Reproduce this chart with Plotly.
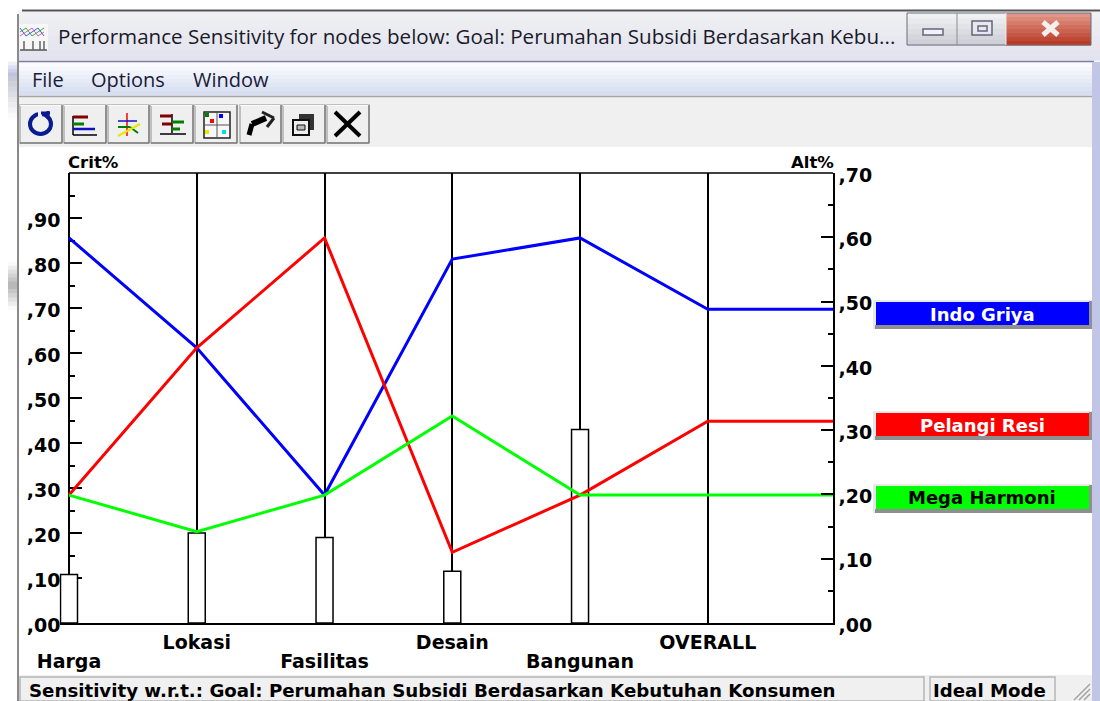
import plotly.graph_objects as go

# ---- data ----
categories = ["Harga", "Lokasi", "Fasilitas", "Desain", "Bangunan", "OVERALL", " "]
crit_weights = [0.108, 0.200, 0.190, 0.115, 0.430]
indo_griya = [0.599, 0.428, 0.199, 0.566, 0.599, 0.488, 0.488]
pelangi_resi = [0.199, 0.428, 0.599, 0.110, 0.199, 0.314, 0.314]
mega_harmoni = [0.199, 0.142, 0.199, 0.322, 0.199, 0.199, 0.199]
left_ticks = [0.0, 0.1, 0.2, 0.3, 0.4, 0.5, 0.6, 0.7, 0.8, 0.9]
left_labels = [",00", ",10", ",20", ",30", ",40", ",50", ",60", ",70", ",80", ",90"]
right_ticks = [0.0, 0.1, 0.2, 0.3, 0.4, 0.5, 0.6, 0.7]
right_labels = [",00", ",10", ",20", ",30", ",40", ",50", ",60", ",70"]
series_names = ["Indo Griya", "Pelangi Resi", "Mega Harmoni"]
series_colors = ["#0000ff", "#ff0000", "#00ff00"]
series_text = ["white", "white", "black"]
title_text = "Performance Sensitivity for nodes below: Goal: Perumahan Subsidi Berdasarkan Kebu..."
status_text = "Sensitivity w.r.t.: Goal: Perumahan Subsidi Berdasarkan Kebutuhan Konsumen"

W, H = 1100, 701
L, R, T, B = 69, 833, 173, 623
STEP = 127.76           # pixels between two categories
LEFT_PAD = 9.5          # the axis baseline starts left of the Crit% axis, under the first bar
BOLD = "DejaVu Sans"
UI = "Open Sans"
LEGEND_Y = [314, 425, 498]

px = lambda x: x / W
py = lambda y: 1 - y / H
shapes, notes = [], []


def rect(x0, y0, x1, y1, fill="rgba(0,0,0,0)", line=None, w=1):
    shapes.append(dict(type="rect", xref="paper", yref="paper", x0=px(x0), x1=px(x1),
                       y0=py(y0), y1=py(y1), fillcolor=fill, layer="below",
                       line=dict(color=line or "rgba(0,0,0,0)", width=w if line else 0)))


def seg(x0, y0, x1, y1, color="#000", w=1.5):
    shapes.append(dict(type="line", xref="paper", yref="paper", x0=px(x0), x1=px(x1),
                       y0=py(y0), y1=py(y1), layer="below", line=dict(color=color, width=w)))


def grad(x0, y0, x1, y1, c0, c1, n=10):
    for i in range(n):
        t = i / (n - 1)
        c = tuple(round(a + (b - a) * t) for a, b in zip(c0, c1))
        rect(x0, y0 + (y1 - y0) * i / n, x1, y0 + (y1 - y0) * (i + 1) / n + 0.5, "rgb(%d,%d,%d)" % c)


def text(x, y, s, size=18, color="#000", fam=BOLD, bold=True, anchor="left"):
    notes.append(dict(xref="paper", yref="paper", x=px(x), y=py(y), text=("<b>%s</b>" % s) if bold else s,
                      showarrow=False, xanchor=anchor, yanchor="middle",
                      font=dict(size=size, color=color, family=fam)))


# ---- window chrome ----
rect(18, 10, 1100, 675, "#f3f4f8")
seg(22, 10.5, 1100, 10.5, "#555555", 2)
seg(18, 14, 18, 701, "#8a8a8a", 2)
grad(19, 12, 1100, 60, (240, 240, 242), (226, 227, 238), 10)
grad(8, 58, 17, 76, (255, 255, 255), (190, 192, 228), 5)
grad(8, 76, 17, 118, (200, 200, 215), (250, 250, 250), 8)
grad(8, 262, 17, 285, (250, 250, 250), (185, 185, 185), 6)
grad(8, 285, 17, 310, (185, 185, 185), (250, 250, 250), 6)
seg(19, 61.5, 1094, 61.5, "#7f7fa0", 1.5)
grad(19, 63, 1092, 95, (250, 251, 254), (214, 222, 240), 8)
seg(19, 96.5, 1092, 96.5, "#a5a5a5", 1.5)
rect(19, 98, 1092, 147, "#f0f0f0")
rect(19, 147, 1092, 675, "#ffffff")
rect(1092, 62, 1100, 701, "#c2c6e6")
rect(19, 675, 1092, 701, "#f0f0f0")
rect(20, 677, 924, 701, "#f0f0f0", "#b5b5b5", 1.5)
rect(930, 677, 1055, 701, "#f0f0f0", "#b5b5b5", 1.5)
for k in range(3):
    seg(1074 + 5 * k, 700, 1090, 684 + 5 * k, "#a0a0a0", 1.5)

# window buttons
grad(907, 13, 957, 45, (240, 240, 242), (205, 208, 214), 6)
grad(957, 13, 1006, 45, (240, 240, 242), (205, 208, 214), 6)
grad(1006, 13, 1091, 45, (226, 150, 135), (185, 60, 40), 8)
rect(907, 13, 1091, 45, line="#6d6d78", w=1)
seg(957, 13, 957, 45, "#8b8b95", 1)
seg(1006, 13, 1006, 45, "#e8e8e8", 1)
rect(923, 29, 943, 35, "#f2f2f4", "#5f6680", 1.5)
rect(972, 21, 992, 35, "#e8e8ea", "#5f6680", 1.5)
rect(978, 26, 987, 31, "#e8e8ea", "#5f6680", 1.5)
seg(1043, 22, 1058, 35, "#f4f0ee", 5)
seg(1058, 22, 1043, 35, "#f4f0ee", 5)

# window icon
rect(19, 24, 48, 50, "#f7f7f7")
for i, c in enumerate(["#e060c0", "#40b040", "#4060e0"]):
    for j in range(4):
        seg(20 + 6 * j, 36 - (i + j) % 3 * 4, 26 + 6 * j, 36 - (i + j + 1) % 3 * 4, c, 1)
seg(20, 50, 47, 50, "#555", 1.5)
for xx in (24, 33, 40, 44):
    seg(xx, 50, xx, 41, "#666", 1.5)

# toolbar buttons
buttons = [(20, 62), (64, 106), (108, 149), (151, 193), (195, 237), (240, 281), (283, 325), (327, 369)]
for x0, x1 in buttons:
    rect(x0, 105, x1, 143, "#efefef", "#b0b0b0", 1.5)
    seg(x0, 105.5, x1, 105.5, "#fafafa", 1)
    seg(x1, 105, x1, 143, "#808080", 1.5)
    seg(x0, 143, x1, 143, "#808080", 1.5)

# button glyphs
shapes.append(dict(type="circle", xref="paper", yref="paper", x0=px(30), x1=px(51), y0=py(134), y1=py(114),
                   layer="below", line=dict(color="#0a1a90", width=4)))
rect(38, 110, 42, 118, "#efefef")
seg(41, 113, 50, 113, "#0a1a90", 3)
seg(48, 111, 48, 119, "#0a1a90", 3)
seg(73, 116, 73, 135, "#000", 1.5); seg(73, 135, 97, 135, "#000", 1.5)
seg(73, 117, 88, 117, "#800000", 3); seg(73, 124, 84, 124, "#008000", 3); seg(73, 129, 95, 129, "#1010c0", 2.5)
seg(127, 113, 127, 136, "#ff0000", 1.5); seg(118, 121, 137, 121, "#1010c0", 1.5)
seg(118, 127, 130, 127, "#008000", 2); seg(130, 127, 138, 133, "#008000", 2); seg(118, 136, 140, 124, "#e8e800", 2)
seg(172, 114, 172, 133, "#000", 1.5); seg(160, 134, 186, 134, "#000", 1.5)
seg(160, 116, 172, 116, "#800000", 3); seg(172, 122, 184, 122, "#008000", 3)
seg(162, 124, 172, 124, "#800000", 3); seg(172, 129, 180, 129, "#008000", 3)
rect(204, 112, 230, 138, "#f7f7f7", "#222", 1.5)
seg(217, 112, 217, 138, "#555", 1); seg(204, 125, 230, 125, "#555", 1)
for mx, my, c in [(207, 115, "#008000"), (221, 116, "#0000ff"), (212, 121, "#ff0000"), (207, 132, "#e8e800"), (224, 132, "#00e0e0")]:
    rect(mx - 2, my - 2, mx + 2, my + 2, c)
seg(249, 135, 252, 124, "#000", 5); seg(252, 124, 266, 118, "#000", 6); seg(262, 112, 274, 118, "#222", 3); seg(274, 118, 267, 127, "#222", 3)
rect(299, 114, 314, 130, "#333"); rect(293, 120, 309, 135, "#f0f0f0", "#111", 2); rect(297, 125, 305, 130, "#bbb", "#111", 1)
seg(335, 112, 360, 136, "#000", 4); seg(360, 112, 335, 136, "#000", 4)

# top border of the plot box
seg(L, T, R, T, "#000", 1.5)

# menu + title text
text(56, 36, title_text, 20.6, "#1a1a2a", UI, False)
text(30, 80, "File", 20, "#1a1a3a", UI, False)
text(89, 80, "Options", 20, "#1a1a3a", UI, False)
text(191, 80, "Window", 20, "#1a1a3a", UI, False)
text(66, 162, "Crit%", 16.5)
text(836, 162, "Alt%", 16.5, anchor="right")
text(27, 690, status_text, 18.2)
text(931, 690, "Ideal Mode", 18.2)

# ---- legend buttons ----
for name, col, tc, yc in zip(series_names, series_colors, series_text, LEGEND_Y):
    rect(873, yc - 14, 1092, yc + 15, "#e8e8e8")
    rect(875, yc + 11, 1092, yc + 15, "#8f8f8f")
    rect(1089, yc - 13, 1092, yc + 15, "#8f8f8f")
    rect(876, yc - 12, 1089, yc + 11, col)
    text(982, yc, name, 18, tc, BOLD, True, "center")

# ---- chart ----
fig = go.Figure()
fig.add_trace(go.Bar(x=categories[:5], y=crit_weights, width=0.133, xaxis="x", yaxis="y", showlegend=False,
                     marker=dict(color="white", line=dict(color="black", width=1.5))))
for name, col, vals in zip(series_names, series_colors, (indo_griya, pelangi_resi, mega_harmoni)):
    fig.add_trace(go.Scatter(x=categories, y=vals, xaxis="x2", yaxis="y2", mode="lines", name=name, cliponaxis=False,
                             showlegend=False, line=dict(color=col, width=3)))

tickfont = dict(size=19, color="black", family=BOLD + ", sans-serif", weight="bold")
xrange_ = [-LEFT_PAD / STEP, (R - L) / STEP]
xdomain = [px(L - LEFT_PAD), px(R)]
common_x = dict(type="category", categoryorder="array", categoryarray=categories, automargin=False,
                domain=xdomain, range=xrange_, showgrid=True, gridcolor="black", gridwidth=1.5, ticks="",
                tickmode="array", tickangle=0, tickfont=tickfont)
common_y = dict(domain=[py(B), py(T)], showgrid=False, zeroline=False, showline=True, automargin=False,
                linecolor="black", linewidth=1.5, ticks="inside", ticklen=12, tickwidth=1.5, tickcolor="black",
                tickmode="array", tickfont=tickfont, ticklabelshift=2,
                minor=dict(ticks="inside", ticklen=5, tickwidth=1.5, tickcolor="black", dtick=0.05, tick0=0.05))
fig.update_layout(
    template="none",
    width=W, height=H, margin=dict(l=0, r=0, t=0, b=0, pad=0), autosize=False,
    paper_bgcolor="white", plot_bgcolor="rgba(0,0,0,0)", showlegend=False,
    shapes=shapes, annotations=notes,
    # upper row of category labels
    xaxis=dict(common_x, showline=True, linecolor="black", linewidth=1.5, anchor="y",
               tickvals=categories[1::2][:3], ticktext=categories[1::2][:3], ticklabelstandoff=1),
    # lower row of category labels
    xaxis2=dict(common_x, overlaying="x", anchor="y2", showline=False,
                tickvals=categories[0::2][:3], ticktext=categories[0::2][:3], ticklabelstandoff=25),
    yaxis=dict(common_y, range=[0, 1], anchor="free", position=px(L), tickvals=left_ticks, ticktext=left_labels,
               ticklabelstandoff=4, layer="below traces"),
    yaxis2=dict(common_y, range=[0, 0.7], overlaying="y", side="right", anchor="x2", tickvals=right_ticks,
                ticktext=right_labels),
)
fig.write_html("out.html", post_script="document.body.style.margin='0';document.body.style.overflow='hidden';",
               config=dict(displayModeBar=False))
